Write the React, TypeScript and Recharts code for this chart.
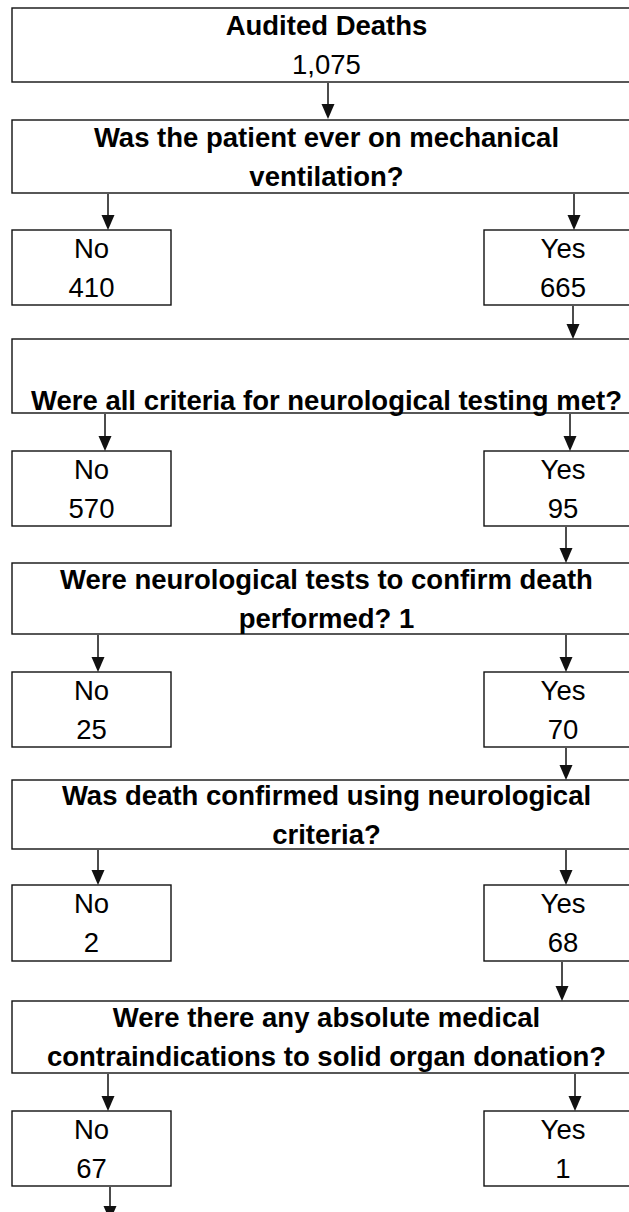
import { ComposedChart, XAxis, YAxis, ReferenceArea, ReferenceLine } from "recharts";

// flowchart content
const totalLabel = "Audited Deaths";
const totalDeaths = 1075;
const questionLines = [
  ["Was the patient ever on mechanical", "ventilation?"],
  ["Were all criteria for neurological testing met?"],
  ["Were neurological tests to confirm death", "performed? 1"],
  ["Was death confirmed using neurological", "criteria?"],
  ["Were there any absolute medical", "contraindications to solid organ donation?"],
];
const branchLabels = ["No", "Yes"];
const noCounts = [410, 570, 25, 2, 67];
const yesCounts = [665, 95, 70, 68, 1];

// layout (in chart units, 1 unit = 1px)
const W = 629;
const H = 1212;
const wideX = [12, 641];
const noX = [12, 171];
const yesX = [484, 642];
const topRow = [8, 82];
const questionRows = [
  [120, 193],
  [339, 413],
  [563, 634],
  [780, 849],
  [1001, 1073],
];
const branchRows = [
  [230, 305],
  [451, 526],
  [672, 747],
  [885, 961],
  [1111, 1186],
];
const leftArrowX = [108, 105, 98, 98, 108];
const rightArrowX = [574, 570, 566, 566, 575];
const feedArrowX = [328, 573, 566, 566, 562];
const lastArrowX = 110;

const FONT = "'Liberation Sans', Arial, sans-serif";
const FS = 27.5;
const INK = "#111";

const BoxShape = (props: any) => {
  const { x, y, width, height, lines, bold, bottom } = props;
  const cx = x + width / 2;
  const cy = y + height / 2;
  const centers =
    lines.length === 1
      ? [bottom ? y + height - 13 : cy]
      : [cy - 19.5, cy + 19.5];
  return (
    <g>
      <rect x={x} y={y} width={width} height={height} fill="#fff" stroke={INK} strokeWidth={1.4} />
      {lines.map((t: string, i: number) => (
        <text
          key={i}
          x={cx}
          y={centers[i] + FS * 0.355}
          textAnchor="middle"
          fontFamily={FONT}
          fontSize={FS}
          fontWeight={bold && (i === 0 || !props.firstOnly) ? 700 : 400}
          fill="#000"
        >
          {t}
        </text>
      ))}
    </g>
  );
};

const Arrow = (props: any) => {
  const { x1, y1, x2, y2 } = props;
  const head = 15;
  const half = 6.5;
  return (
    <g>
      <line x1={x1} y1={y1} x2={x2} y2={y2 - head + 1} stroke={INK} strokeWidth={1.5} />
      <polygon
        points={`${x2 - half},${y2 - head} ${x2 + half},${y2 - head} ${x2},${y2}`}
        fill={INK}
      />
    </g>
  );
};

type Arrow = { x: number; from: number; to: number };

const arrows: Arrow[] = [];
arrows.push({ x: feedArrowX[0], from: topRow[1] + 1, to: questionRows[0][0] - 1 });
questionRows.forEach((q, i) => {
  const b = branchRows[i];
  arrows.push({ x: leftArrowX[i], from: q[1] + 1, to: b[0] });
  arrows.push({ x: rightArrowX[i], from: q[1] + 1, to: b[0] });
  if (i + 1 < questionRows.length) {
    arrows.push({ x: feedArrowX[i + 1], from: b[1] + 1, to: questionRows[i + 1][0] });
  }
});
arrows.push({ x: lastArrowX, from: branchRows[4][1] + 1, to: branchRows[4][1] + 35 });

export default function App() {
  return (
    <div style={{ position: "absolute", left: 0, top: 0, background: "#fff" }}>
      <ComposedChart width={W} height={H} data={[]} margin={{ top: 0, right: 0, bottom: 0, left: 0 }}>
        <XAxis type="number" dataKey="x" domain={[0, W]} hide allowDataOverflow />
        <YAxis type="number" dataKey="y" domain={[0, H]} reversed hide allowDataOverflow />

        <ReferenceArea
          x1={wideX[0]}
          x2={wideX[1]}
          y1={topRow[0]}
          y2={topRow[1]}
          ifOverflow="visible"
          shape={(p: any) => (
            <BoxShape {...p} lines={[totalLabel, totalDeaths.toLocaleString("en-US")]} bold firstOnly />
          )}
        />

        {questionRows.map((q, i) => (
          <ReferenceArea
            key={`q${i}`}
            x1={wideX[0]}
            x2={wideX[1]}
            y1={q[0]}
            y2={q[1]}
            ifOverflow="visible"
            shape={(p: any) => <BoxShape {...p} lines={questionLines[i]} bold bottom />}
          />
        ))}

        {branchRows.map((b, i) => (
          <ReferenceArea
            key={`n${i}`}
            x1={noX[0]}
            x2={noX[1]}
            y1={b[0]}
            y2={b[1]}
            ifOverflow="visible"
            shape={(p: any) => <BoxShape {...p} lines={[branchLabels[0], String(noCounts[i])]} />}
          />
        ))}
        {branchRows.map((b, i) => (
          <ReferenceArea
            key={`y${i}`}
            x1={yesX[0]}
            x2={yesX[1]}
            y1={b[0]}
            y2={b[1]}
            ifOverflow="visible"
            shape={(p: any) => <BoxShape {...p} lines={[branchLabels[1], String(yesCounts[i])]} />}
          />
        ))}

        {arrows.map((a, i) => (
          <ReferenceLine
            key={`a${i}`}
            segment={[
              { x: a.x, y: a.from },
              { x: a.x, y: a.to },
            ]}
            ifOverflow="visible"
            shape={(p: any) => <Arrow {...p} />}
          />
        ))}
      </ComposedChart>
    </div>
  );
}
